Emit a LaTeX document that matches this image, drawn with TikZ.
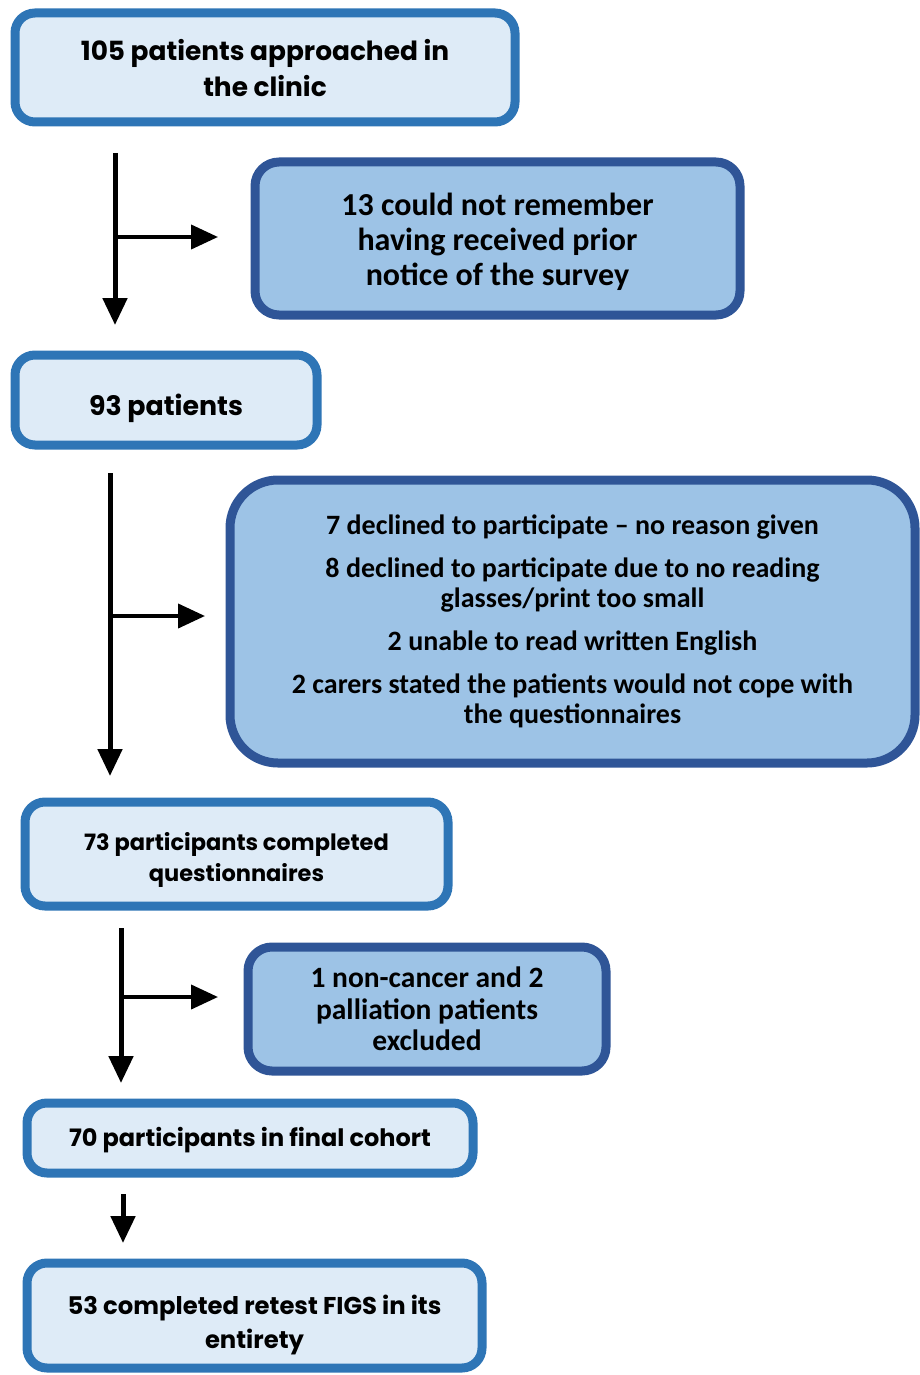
\documentclass[tikz,border=0pt]{standalone}
\usepackage{fontspec}
\setmainfont{Poppins}
\newfontfamily\calf{Carlito}
\usetikzlibrary{arrows.meta}
\definecolor{mainfill}{HTML}{DEEBF7}
\definecolor{mainline}{HTML}{2E75B6}
\definecolor{exfill}{HTML}{9DC3E6}
\definecolor{exline}{HTML}{2F5597}
\tikzset{
  mainbox/.style={draw=mainline, fill=mainfill, line width=9pt, rounded corners=20pt, inner sep=0pt},
  exbox/.style={draw=exline, fill=exfill, line width=9pt, rounded corners=24pt, inner sep=0pt},
  maintext/.style={inner sep=0pt, align=center, font=\fontsize{#1}{36}\selectfont\bfseries},
  extext/.style={inner sep=0pt, align=center, font=\calf\fontsize{#1}{35}\selectfont\bfseries},
  flow/.style={line width=5pt, -{Triangle[width=24pt,length=27pt]}},
}
\begin{document}
\begin{tikzpicture}[x=1pt,y=-1pt]
\useasboundingbox (0,0) rectangle (920,1375);
% boxes
\node[mainbox, minimum width=500pt, minimum height=109pt] (b1) at (265,67.5) {};
\node[maintext=26.4, yshift=-1pt] (b1t) at (b1.center) {105 patients approached in\\the clinic};
\node[exbox, minimum width=485pt, minimum height=153pt] (e1) at (497.5,238.5) {};
\node[extext=32, yshift=-3pt] (e1t) at (e1.center) {13 could not remember\\having received prior\\notice of the survey};
\node[mainbox, minimum width=302pt, minimum height=90pt] (b2) at (166,400) {};
\node[maintext=26.8, yshift=-8pt] (b2t) at (b2.center) {93 patients};
\node[exbox, rounded corners=48pt, minimum width=685pt, minimum height=283pt] (e2) at (572.5,621.5) {};
\node[extext=28, font=\calf\fontsize{28}{30}\selectfont\bfseries] (e2t) at (e2.center)
  {7 declined to participate \textendash\ no reason given\\[13pt]
   8 declined to participate due to no reading\\glasses/print too small\\[13pt]
   2 unable to read written English\\[13pt]
   2 carers stated the patients would not cope with\\the questionnaires};
\node[mainbox, minimum width=423pt, minimum height=104pt] (b3) at (236.5,854) {};
\node[maintext=22.5, font=\fontsize{22.5}{31}\selectfont\bfseries, yshift=-6pt] (b3t) at (b3.center) {73 participants completed\\questionnaires};
\node[exbox, minimum width=358pt, minimum height=124pt] (e3) at (427,1009) {};
\node[extext=29.5, font=\calf\fontsize{29.5}{31.5}\selectfont\bfseries] (e3t) at (e3.center) {1 non-cancer and 2\\palliation patients\\excluded};
\node[mainbox, minimum width=446pt, minimum height=70pt] (b4) at (250,1138) {};
\node[maintext=24, yshift=-2pt] (b4t) at (b4.center) {70 participants in final cohort};
\node[mainbox, minimum width=455pt, minimum height=105pt] (b5) at (254.5,1315.5) {};
\node[maintext=24.3, font=\fontsize{24.3}{34}\selectfont\bfseries, yshift=-9pt] (b5t) at (b5.center) {53 completed retest FIGS in its\\entirety};
% connector coordinates
\coordinate (s1) at (115,153); \coordinate (t1) at (115,325); \coordinate (j1) at (115,237); \coordinate (x1) at (218,237);
\coordinate (s2) at (110,473); \coordinate (t2) at (110,776); \coordinate (j2) at (110,616); \coordinate (x2) at (205,616);
\coordinate (s3) at (121,928); \coordinate (t3) at (121,1083); \coordinate (j3) at (121,997); \coordinate (x3) at (218,997);
\coordinate (s4) at (123,1194); \coordinate (t4) at (123,1243);
\draw[flow] (s1) -- (t1);
\draw[flow, line width=4pt] (j1) -- (x1);
\draw[flow] (s2) -- (t2);
\draw[flow, line width=4pt] (j2) -- (x2);
\draw[flow] (s3) -- (t3);
\draw[flow, line width=4pt] (j3) -- (x3);
\draw[flow] (s4) -- (t4);
\end{tikzpicture}
\end{document}
